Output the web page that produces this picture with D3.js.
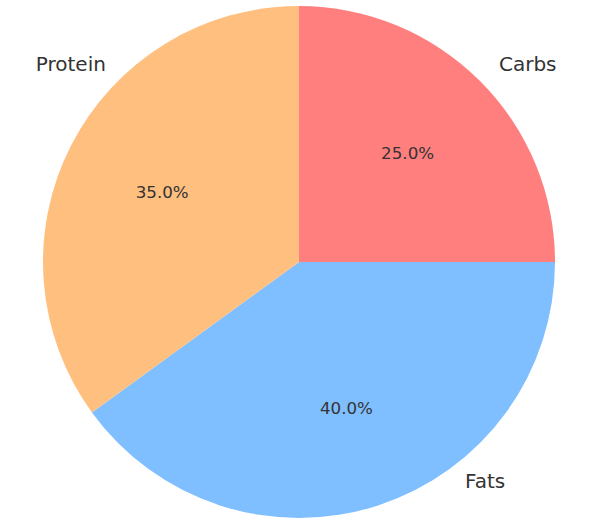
<!DOCTYPE html>
<html>
<head>
<meta charset="utf-8">
<script src="https://cdn.jsdelivr.net/npm/d3@7"></script>
<style>
html,body{margin:0;padding:0;background:#fff;}
svg{display:block;}
text{font-family:"DejaVu Sans",sans-serif;fill:#333;}
</style>
</head>
<body>
<svg id="chart" width="600" height="527"></svg>
<script>
const categories = ["Carbs", "Fats", "Protein"];
const values = [25, 40, 35];
const colors = ["#ff7f7f", "#7fbfff", "#ffbf7f"];

const W = 600, H = 527;
const cx = 299, cy = 262, R = 256;
// name-label placement (angle in degrees clockwise from 12 o'clock, radius factor), as in the reference
const labelPlacement = {
  Carbs:   {angle: 45.3,  r: 1.099},
  Fats:    {angle: 142.8, r: 1.073},
  Protein: {angle: 315.7, r: 1.080}
};

const svg = d3.select("#chart");
const g = svg.append("g").attr("transform", `translate(${cx},${cy})`);

const data = categories.map((c, i) => ({name: c, value: values[i], color: colors[i]}));
const total = d3.sum(values);
const pie = d3.pie().value(d => d.value).sort(null);
const arc = d3.arc().innerRadius(0).outerRadius(R);
const pctArc = d3.arc().innerRadius(R * 0.6).outerRadius(R * 0.6);

const arcs = pie(data);

g.selectAll("path.slice").data(arcs).enter().append("path")
  .attr("class", "slice")
  .attr("d", arc)
  .attr("fill", d => d.data.color);

g.selectAll("text.pct").data(arcs).enter().append("text")
  .attr("class", "pct")
  .attr("transform", d => `translate(${pctArc.centroid(d)})`)
  .attr("text-anchor", "middle")
  .attr("dominant-baseline", "central")
  .style("font-size", "16.7px")
  .text(d => (d.data.value / total * 100).toFixed(1) + "%");

g.selectAll("text.lbl").data(arcs).enter().append("text")
  .attr("class", "lbl")
  .each(function(d) {
    const p = labelPlacement[d.data.name];
    const a = p.angle * Math.PI / 180;
    const x = R * p.r * Math.sin(a), y = -R * p.r * Math.cos(a);
    d3.select(this).attr("x", x).attr("y", y)
      .attr("text-anchor", x > 0 ? "start" : "end");
  })
  .attr("dominant-baseline", "central")
  .style("font-size", "20px")
  .text(d => d.data.name);
</script>
</body>
</html>
